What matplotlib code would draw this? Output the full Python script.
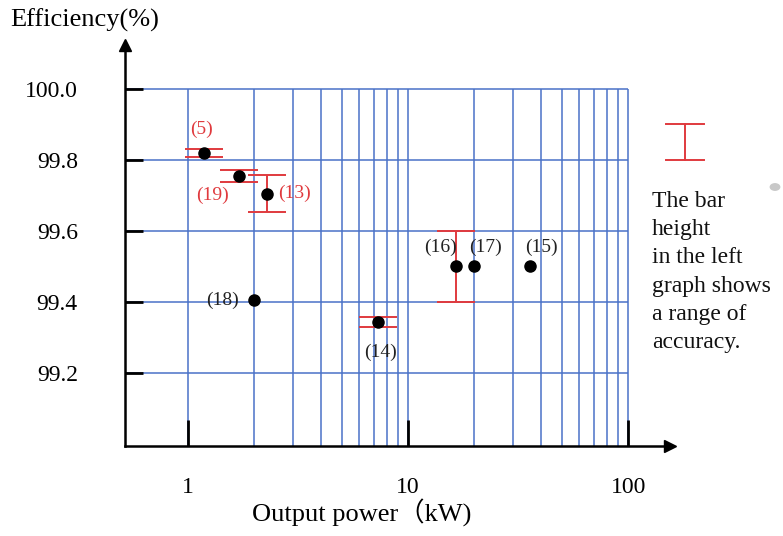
import matplotlib.pyplot as plt
import numpy as np

# data
labels = ['(5)', '(19)', '(13)', '(18)', '(14)', '(16)', '(17)', '(15)']
power = [1.18, 1.71, 2.29, 2.0, 7.3, 16.5, 20.0, 36.0]
efficiency = [99.82, 99.755, 99.705, 99.405, 99.343, 99.5, 99.5, 99.5]
accuracy = [0.011, 0.016, 0.052, 0.0, 0.015, 0.1, 0.0, 0.0]
label_red = [True, True, True, False, False, False, False, False]
yticks = [99.2, 99.4, 99.6, 99.8, 100.0]
xticks = [1, 10, 100]

# label offsets in points
offsets = [(-1.5, 17), (-19, -14), (20, 0), (-23, 0), (1.5, -22), (-11, 14), (8, 14), (8, 14)]

serif = ['Liberation Serif', 'Noto Sans CJK JP']
plt.rcParams['font.family'] = serif

fig = plt.figure(figsize=(7.83, 5.36), dpi=100)
ax = fig.add_axes([125 / 783, 1 - 446 / 536, (670 - 125) / 783, (446 - 45) / 536])
ax.set_xscale('log')
ax.set_xlim(0.517, 155)
ax.set_ylim(98.994, 100.124)

grid_c = '#4a72c8'
# grid limited to 1..100 kW and 99.0..100.0 %
gx = [m * 10 ** d for d in (0, 1) for m in range(1, 10)] + [100]
ax.vlines(gx, 98.994, 100.0, color=grid_c, lw=1.1, zorder=1)
ax.hlines(yticks, 0.517, 100, color=grid_c, lw=1.1, zorder=1)

red = '#e03a3e'
for x, y, e, lab, isred, off in zip(power, efficiency, accuracy, labels, label_red, offsets):
    if e > 0:
        ax.errorbar(x, y, yerr=e, fmt='none', ecolor=red, elinewidth=1.4,
                    capsize=14, capthick=1.4, zorder=3)
    ax.plot(x, y, 'o', color='black', ms=8, zorder=4)
    ax.annotate(lab, (x, y), xytext=off, textcoords='offset points',
                ha='center', va='center', fontsize=14,
                color=red if isred else '#222222')

# axes with arrows
for s in ['top', 'right']:
    ax.spines[s].set_visible(False)
for s in ['left', 'bottom']:
    ax.spines[s].set_linewidth(1.8)
ax.plot(1, 0, '>', color='black', ms=8, transform=ax.transAxes, clip_on=False)
ax.plot(0, 1, '^', color='black', ms=8, transform=ax.transAxes, clip_on=False)

ax.set_yticks(yticks)
ax.set_yticklabels([f'{v:.1f}' for v in yticks])
ax.set_xticks(xticks)
ax.set_xticklabels([str(v) for v in xticks])
ax.xaxis.set_minor_locator(plt.NullLocator())
ax.tick_params(axis='y', direction='in', length=13, width=2, pad=34, labelsize=17)
ax.tick_params(axis='x', direction='in', length=19, width=2, pad=22, labelsize=17)

fig.text(10 / 783, 1 - 20 / 536, 'Efficiency(%)', fontsize=19, va='center', ha='left')
fig.text(362 / 783, 1 - 513 / 536, 'Output power（kW)', fontsize=19, va='center', ha='center')

# legend-like note on the right
fig.lines.append(plt.Line2D([685 / 783, 685 / 783], [1 - 124 / 536, 1 - 160 / 536],
                            color=red, lw=1.4, transform=fig.transFigure))
for yy in (124, 160):
    fig.lines.append(plt.Line2D([666 / 783, 704 / 783], [1 - yy / 536, 1 - yy / 536],
                                color=red, lw=1.4, transform=fig.transFigure))
fig.text(652 / 783, 1 - 191 / 536,
         'The bar\nheight\nin the left\ngraph shows\na range of\naccuracy.',
         fontsize=17, va='top', ha='left', linespacing=1.45, color='#111111')
fig.patches.append(plt.Circle((775 / 783, 1 - 187 / 536), 0.006, color='#c8c8c8',
                              transform=fig.transFigure))

fig.savefig('out.png', dpi=100)
